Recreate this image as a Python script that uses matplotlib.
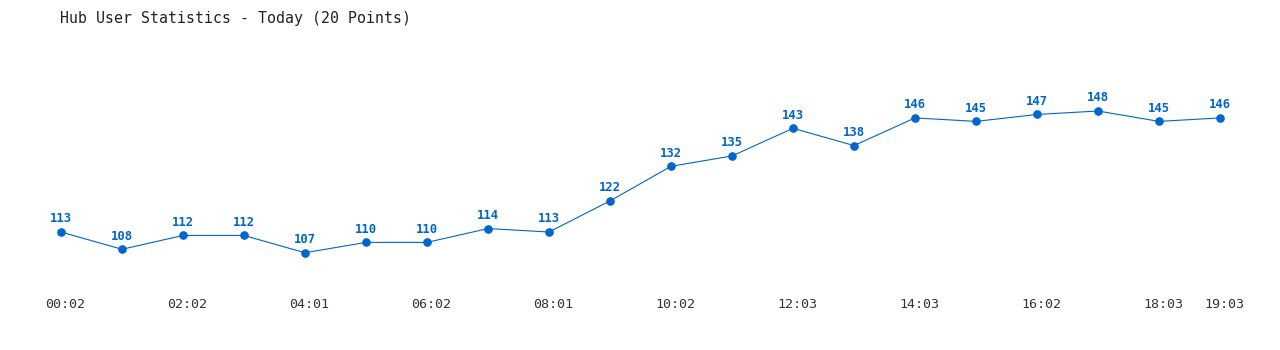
import matplotlib
matplotlib.use("Agg")
import matplotlib.pyplot as plt
import matplotlib.transforms as mtransforms

values = [113, 108, 112, 112, 107, 110, 110, 114, 113, 122,
          132, 135, 143, 138, 146, 145, 147, 148, 145, 146]
tick_positions = [0, 2, 4, 6, 8, 10, 12, 14, 16, 18, 19]
tick_labels = ["00:02", "02:02", "04:01", "06:02", "08:01", "10:02",
               "12:03", "14:03", "16:02", "18:03", "19:03"]
title = "Hub User Statistics - Today (20 Points)"

blue = "#0066cc"
mono = ["DejaVu Sans Mono"]

fig = plt.figure(figsize=(12.8, 3.5), dpi=100)
ax = fig.add_axes([0, 55 / 350, 1, 255 / 350])
xs = list(range(len(values)))
ax.plot(xs, values, color=blue, lw=0.8, marker="o", ms=5.2, mec=blue, mfc=blue)
for x, v in zip(xs, values):
    ax.annotate(str(v), (x, v), xytext=(0, 9.4), textcoords="offset points",
                ha="center", va="center", color=blue, fontsize=8.8,
                fontweight="bold", family=mono)

ax.set_xlim(-1, (1280 - 61) / 61)
ax.set_ylim(94.78, 168.54)
ax.set_xticks(tick_positions)
ax.set_xticklabels(tick_labels, family=mono, fontsize=9.6, color="#333333")
ax.tick_params(axis="x", length=0, pad=2)
shift = mtransforms.ScaledTranslation(4 / 100, 0, fig.dpi_scale_trans)
for lab in ax.get_xticklabels():
    lab.set_transform(lab.get_transform() + shift)
ax.set_yticks([])
for s in ax.spines.values():
    s.set_visible(False)

fig.text(60 / 1280, 1 - 18 / 350, title, ha="left", va="center",
         family=mono, fontsize=10.7, color="#222222")

fig.savefig("out.png", dpi=100)
